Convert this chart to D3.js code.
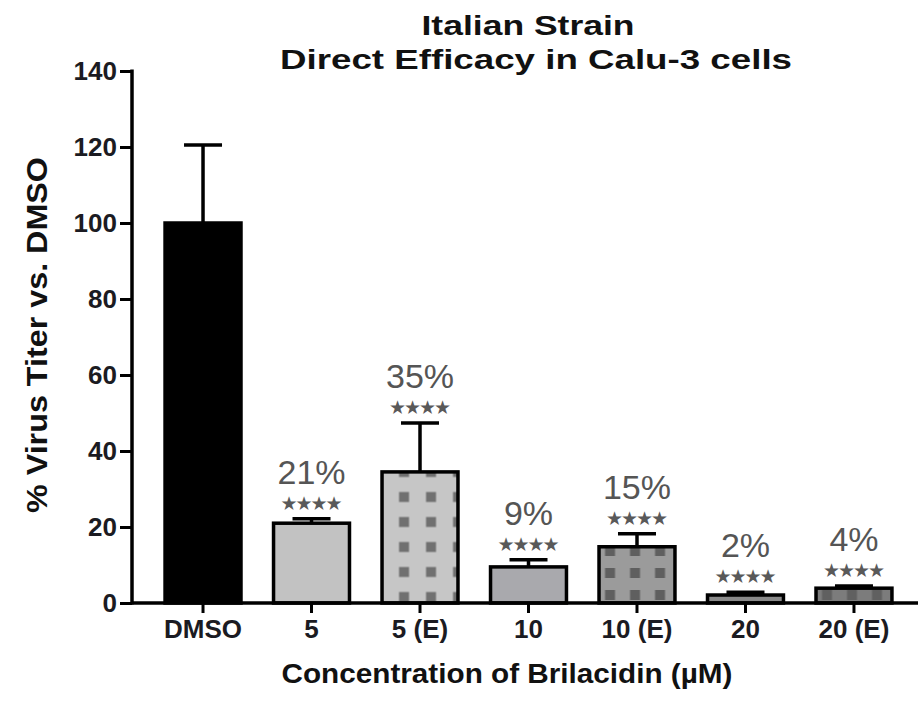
<!DOCTYPE html>
<html>
<head>
<meta charset="utf-8">
<script src="https://cdn.jsdelivr.net/npm/d3@7"></script>
<style>
  html, body { margin: 0; padding: 0; background: #fff; }
  svg { display: block; font-family: "Liberation Sans", Arial, sans-serif; }
</style>
</head>
<body>
<svg id="chart" width="918" height="702"></svg>
<script>
// ---- data ----
const categories = ["DMSO", "5", "5 (E)", "10", "10 (E)", "20", "20 (E)"];
const means      = [100, 21, 34.5, 9.5, 14.8, 2.1, 3.9];
const errUpper   = [20.5, 1.2, 12.9, 1.9, 3.4, 0.7, 0.6];
const pctLabels  = ["", "21%", "35%", "9%", "15%", "2%", "4%"];
const sigLabels  = ["", "★★★★", "★★★★", "★★★★", "★★★★", "★★★★", "★★★★"];
const yTicks     = [0, 20, 40, 60, 80, 100, 120, 140];
const titleLines = ["Italian Strain", "Direct Efficacy in Calu-3 cells"];
const yTitle = "% Virus Titer vs. DMSO";
const xTitle = "Concentration of Brilacidin (\u00B5M)";

// ---- styles ----
const barFills = ["#000000", "#c2c2c2", "#c6c6c6", "#a9a9ad", "#9b9b9b", "#8a8a8a", "#7c7c7c"];
const patterned = [false, false, true, false, true, false, true];
const squareColors = ["", "", "#707070", "", "#5f5f5f", "", "#606060"];
const patW = [0, 0, 27, 0, 25, 0, 25];
const patH = [0, 0, 25, 0, 22, 0, 22];
const patOffX = [0, 0, 22, 0, 11, 0, 11];   // square center from bar left
const patOffY = [0, 0, 6, 0, 8, 0, 8];      // square center from baseline

const svg = d3.select("#chart");
const axisX0 = 132, axisY0 = 603, axisTop = 71;

const y = d3.scaleLinear().domain([0, 140]).range([axisY0, axisTop]);
const x = d3.scaleBand().domain(categories).range([132.5, 924.5]).paddingInner(0.3).paddingOuter(0.3);
const bw = x.bandwidth();

// patterns
const defs = svg.append("defs");
categories.forEach((c, i) => {
  if (!patterned[i]) return;
  const x0 = x(c);
  const w = patW[i], h = patH[i];
  const p = defs.append("pattern")
    .attr("id", "pat" + i)
    .attr("patternUnits", "userSpaceOnUse")
    .attr("x", x0 + patOffX[i] - w / 2)
    .attr("y", axisY0 - patOffY[i] - h / 2)
    .attr("width", w).attr("height", h);
  p.append("rect").attr("width", w).attr("height", h).attr("fill", barFills[i]);
  p.append("rect").attr("x", w / 2 - 5).attr("y", h / 2 - 5).attr("width", 10).attr("height", 10)
    .attr("fill", squareColors[i]);
});

// bars
svg.append("g").selectAll("rect.bar")
  .data(categories)
  .join("rect")
  .attr("class", "bar")
  .attr("x", d => x(d))
  .attr("y", (d, i) => y(means[i]))
  .attr("width", bw)
  .attr("height", (d, i) => axisY0 - y(means[i]))
  .attr("fill", (d, i) => patterned[i] ? "url(#pat" + i + ")" : barFills[i])
  .attr("stroke", "#000")
  .attr("stroke-width", 3.5);

// error bars
const eg = svg.append("g").attr("stroke", "#000").attr("stroke-width", 3.5);
categories.forEach((c, i) => {
  const cx = x(c) + bw / 2;
  const top = y(means[i] + errUpper[i]);
  eg.append("line").attr("x1", cx).attr("x2", cx).attr("y1", y(means[i])).attr("y2", top);
  eg.append("line").attr("x1", cx - 19).attr("x2", cx + 19).attr("y1", top).attr("y2", top);
});

// annotations
categories.forEach((c, i) => {
  if (!pctLabels[i]) return;
  const cx = x(c) + bw / 2;
  const top = y(means[i] + errUpper[i]);
  svg.append("text").attr("x", cx).attr("y", top - 35)
    .attr("text-anchor", "middle").attr("font-size", 34).attr("fill", "#555")
    .text(pctLabels[i]);
  svg.append("text").attr("x", cx).attr("y", top - 16)
    .attr("text-anchor", "middle").attr("dominant-baseline", "central")
    .attr("font-family", "DejaVu Sans").attr("font-size", 19)
    .attr("textLength", 62).attr("lengthAdjust", "spacing")
    .attr("fill", "#595959")
    .text(sigLabels[i]);
});

// y axis
const yAxis = d3.axisLeft(y).tickValues(yTicks).tickSize(12).tickPadding(3).tickFormat(d3.format("d"));
const gy = svg.append("g").attr("transform", `translate(${axisX0},0)`).call(yAxis);
gy.select(".domain").remove();
gy.selectAll(".tick line").attr("stroke", "#000").attr("stroke-width", 3);
gy.selectAll(".tick text").attr("font-size", 26).attr("font-weight", "bold").attr("fill", "#1b1b22")
  .attr("font-family", "Liberation Sans, Arial, sans-serif");
svg.append("line").attr("x1", axisX0).attr("x2", axisX0).attr("y1", axisTop - 1.5).attr("y2", axisY0 + 1.5)
  .attr("stroke", "#000").attr("stroke-width", 3.5);

// x axis
const xAxis = d3.axisBottom(x).tickSize(10).tickPadding(7);
const gx = svg.append("g").attr("transform", `translate(0,${axisY0})`).call(xAxis);
gx.select(".domain").remove();
gx.selectAll(".tick line").attr("stroke", "#000").attr("stroke-width", 3);
gx.selectAll(".tick text").attr("font-size", 26).attr("font-weight", "bold").attr("fill", "#1b1b22")
  .attr("font-family", "Liberation Sans, Arial, sans-serif");
svg.append("line").attr("x1", axisX0).attr("x2", 918).attr("y1", axisY0).attr("y2", axisY0)
  .attr("stroke", "#000").attr("stroke-width", 3.5);

// titles
svg.append("text").attr("x", 528).attr("y", 35).attr("text-anchor", "middle")
  .attr("font-size", 28).attr("font-weight", "bold").attr("fill", "#111")
  .attr("textLength", 213).attr("lengthAdjust", "spacingAndGlyphs")
  .text(titleLines[0]);
svg.append("text").attr("x", 536).attr("y", 69).attr("text-anchor", "middle")
  .attr("font-size", 28).attr("font-weight", "bold").attr("fill", "#111")
  .attr("textLength", 512).attr("lengthAdjust", "spacingAndGlyphs")
  .text(titleLines[1]);

svg.append("text").attr("transform", "translate(47,335) rotate(-90)").attr("text-anchor", "middle")
  .attr("font-size", 30).attr("font-weight", "bold").attr("fill", "#111")
  .attr("textLength", 356).attr("lengthAdjust", "spacingAndGlyphs")
  .text(yTitle);

svg.append("text").attr("x", 507).attr("y", 683).attr("text-anchor", "middle")
  .attr("font-size", 28).attr("font-weight", "bold").attr("fill", "#111")
  .attr("textLength", 451).attr("lengthAdjust", "spacingAndGlyphs")
  .text(xTitle);
</script>
</body>
</html>
